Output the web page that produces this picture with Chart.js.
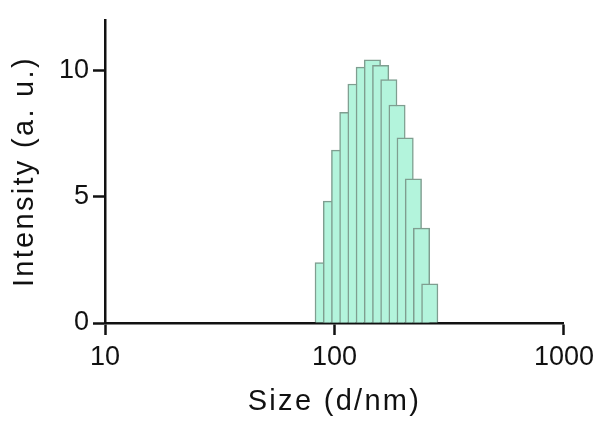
<!DOCTYPE html>
<html>
<head>
<meta charset="utf-8">
<script src="https://cdn.jsdelivr.net/npm/chart.js@4.4.1/dist/chart.umd.min.js"></script>
<style>
  html, body { margin: 0; padding: 0; background: #ffffff; }
  #wrap { width: 600px; height: 421px; position: relative; }
</style>
</head>
<body>
<div id="wrap"><canvas id="c" width="600" height="421"></canvas></div>
<script>
// Size bins (d/nm) and intensities
const sizes = [89.3, 97.0, 105.3, 114.3, 124.1, 134.8, 146.3, 158.9, 172.5, 187.3, 203.2, 220.7, 239.5, 260.1];
const intensities = [2.39, 4.83, 6.85, 8.35, 9.47, 10.14, 10.43, 10.21, 9.65, 8.64, 7.34, 5.71, 3.76, 1.55];
const xTicks = [10, 100, 1000];
const yTicks = [0, 5, 10];
const xTitle = 'Size (d/nm)';
const yTitle = 'Intensity (a. u.)';

const FONT = "'Liberation Sans', Arial, Helvetica, sans-serif";

function spacedTitle(scale) {
  if (scale._spacedTitle) return;
  scale._spacedTitle = true;
  const orig = scale.drawTitle;
  scale.drawTitle = function () {
    const ctx = this.ctx;
    ctx.save();
    if ('letterSpacing' in ctx) ctx.letterSpacing = '2.3px';
    orig.apply(this, arguments);
    ctx.restore();
  };
}

const points = sizes.map((s, i) => ({ x: s, y: intensities[i] }));

new Chart(document.getElementById('c'), {
  type: 'bar',
  data: {
    datasets: [{
      data: points,
      backgroundColor: '#b3f4dc',
      borderColor: '#7f9e90',
      borderWidth: 1.5,
      barThickness: 16.4,
      grouped: false
    }]
  },
  options: {
    responsive: false,
    animation: false,
    devicePixelRatio: 1,
    layout: { padding: { top: 15, right: 34, bottom: 0, left: 0 } },
    plugins: { legend: { display: false }, tooltip: { enabled: false } },
    scales: {
      x: {
        type: 'logarithmic',
        min: 10,
        max: 1000,
        offset: false,
        z: 1,
        afterBuildTicks: (scale) => {
          scale.ticks = xTicks.map(v => ({ value: v, major: true }));
        },
        afterFit: (scale) => { scale.height = 98; spacedTitle(scale); },
        ticks: {
          autoSkip: false,
          maxRotation: 0,
          padding: 6,
          color: '#111111',
          font: { family: FONT, size: 27 },
          callback: (v) => String(v)
        },
        grid: {
          display: true,
          offset: false,
          drawOnChartArea: false,
          drawTicks: true,
          tickLength: 12,
          tickWidth: 2.5,
          tickColor: '#111111',
          color: '#111111'
        },
        border: { display: true, color: '#111111', width: 2.5 },
        title: {
          display: true,
          text: xTitle,
          color: '#111111',
          font: { family: FONT, size: 29 },
          padding: { top: 0, bottom: 2 }
        }
      },
      y: {
        type: 'linear',
        min: 0,
        max: 12,
        z: 1,
        afterBuildTicks: (scale) => {
          scale.ticks = yTicks.map(v => ({ value: v }));
        },
        afterFit: (scale) => { scale.width = 105; spacedTitle(scale); },
        ticks: {
          padding: 4,
          color: '#111111',
          font: { family: FONT, size: 27 },
          callback: (v) => String(v)
        },
        grid: {
          display: true,
          offset: false,
          drawOnChartArea: false,
          drawTicks: true,
          tickLength: 12,
          tickWidth: 2.5,
          tickColor: '#111111',
          color: '#111111'
        },
        border: { display: true, color: '#111111', width: 2.5 },
        title: {
          display: true,
          text: yTitle,
          color: '#111111',
          font: { family: FONT, size: 29 },
          padding: { top: 8, bottom: 0 }
        }
      }
    }
  }
});
</script>
</body>
</html>
